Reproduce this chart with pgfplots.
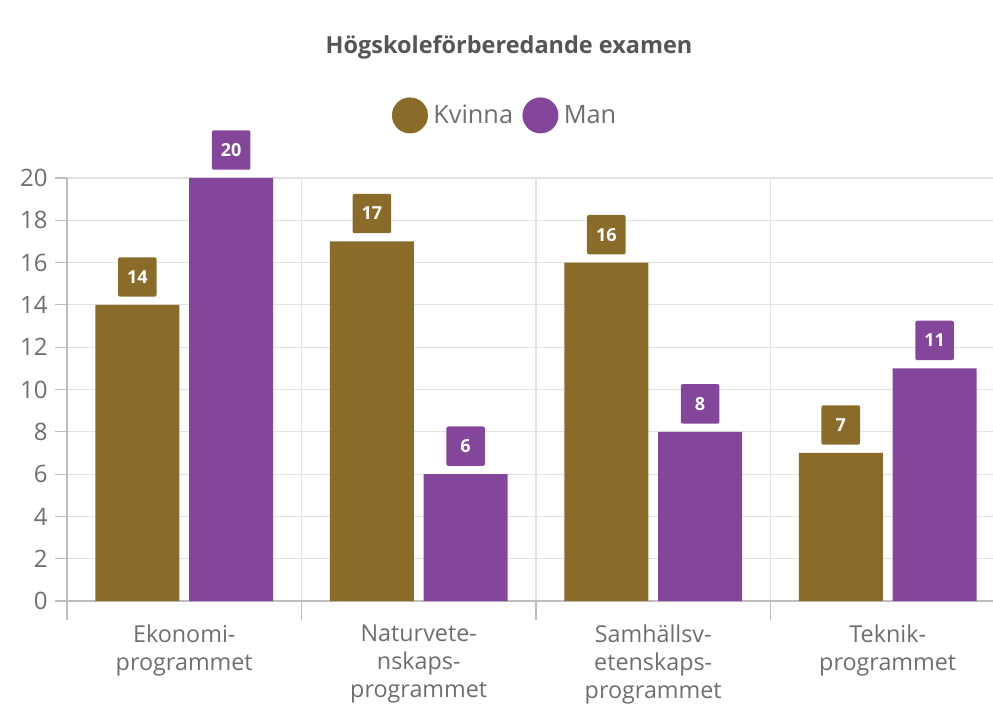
\documentclass[border=0pt]{standalone}
\usepackage{pgfplots}
\pgfplotsset{compat=1.18}
\usepackage{fontspec}
\setmainfont{Open Sans}
\definecolor{kv}{RGB}{138,107,41}
\definecolor{mn}{RGB}{132,70,154}
\definecolor{txt}{RGB}{110,110,110}
\definecolor{ttl}{RGB}{85,85,85}
\definecolor{axl}{RGB}{190,190,190}
\definecolor{grd}{RGB}{226,226,226}
\begin{document}
\begin{tikzpicture}
\path[use as bounding box] (0,0) rectangle (744.75pt,533.25pt);
\node[font=\fontsize{17.6}{20}\selectfont\bfseries, text=ttl] at (381.75pt,498pt) {Högskoleförberedande examen};
\begin{axis}[
  at={(50.25pt,82.5pt)}, anchor=south west,
  scale only axis, width=694.5pt, height=317.25pt,
  clip=false,
  xmin=-0.5, xmax=3.449, ymin=0, ymax=20,
  ytick={0,2,...,20},
  xtick={-0.5,0.5,1.5,2.5},
  xticklabels={},
  xmajorgrids, ymajorgrids,
  grid style={grd, line width=0.9pt},
  axis x line*=bottom, axis y line*=left,
  axis line style={axl, line width=0.9pt},
  tick align=outside,
  major tick length=9pt,
  tick style={axl, line width=0.9pt},
  x tick style={/pgfplots/major tick length=14pt},
  extra x ticks={0,1,2,3},
  extra x tick labels={Ekonomi-\\programmet, Naturvete-\\nskaps-\\programmet, Samhällsv-\\etenskaps-\\programmet, Teknik-\\programmet},
  extra x tick style={major tick length=0pt, grid=none, tick style={draw=none}},
  xticklabel style={align=center, font=\fontsize{17.5}{21}\selectfont, text=txt, yshift=-14pt},
  yticklabel style={font=\fontsize{18}{20}\selectfont, text=txt, xshift=-2pt},
  /pgf/number format/assume math mode=true,
  ybar, bar width=0.358,
  nodes near coords,
  every node near coord/.append style={anchor=south, yshift=6pt, text=white,
     font=\fontsize{13.5}{13.5}\selectfont\bfseries, minimum width=29pt, minimum height=29.5pt,
     inner sep=0pt, rounded corners=1.5pt},
  legend style={at={(0.4735,1.148)}, anchor=center, draw=none, fill=none,
     legend columns=2, font=\fontsize{19}{21}\selectfont, text=txt,
     /tikz/every odd column/.append style={column sep=2pt},
     /tikz/every even column/.append style={column sep=5pt}},
]
\addplot[fill=kv, draw=none, bar shift=-0.2,
  every node near coord/.append style={fill=kv},
  legend image code/.code={\fill[kv] (0pt,0pt) circle (13.5pt);}]
  coordinates {(0,14) (1,17) (2,16) (3,7)};
\addlegendentry{Kvinna}
\addplot[fill=mn, draw=none, bar shift=0.2,
  every node near coord/.append style={fill=mn},
  legend image code/.code={\fill[mn] (0pt,0pt) circle (13.5pt);}]
  coordinates {(0,20) (1,6) (2,8) (3,11)};
\addlegendentry{Man}
\end{axis}
\end{tikzpicture}
\end{document}
